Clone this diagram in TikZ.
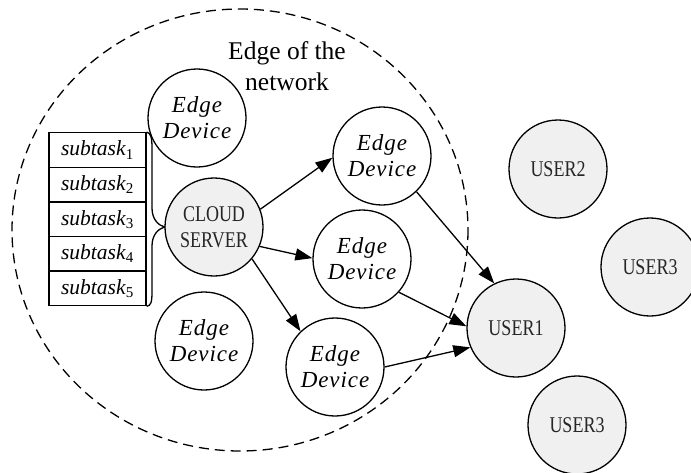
\documentclass[tikz,border=0pt]{standalone}
\usepackage{fontspec}
\setmainfont{Liberation Serif}
\newfontfamily\narrowfont[FakeStretch=0.8]{Liberation Serif}
\usetikzlibrary{arrows.meta}
\definecolor{nodefill}{RGB}{240,240,240}
\begin{document}
\begin{tikzpicture}[x=1pt,y=-1pt,
  dev/.style={circle,draw,line width=1.3pt,fill=white,minimum size=98pt,inner sep=0pt,
    align=center,font=\fontsize{23}{26}\selectfont\itshape\addfontfeatures{LetterSpace=4}},
  usr/.style={circle,draw,line width=1.3pt,fill=nodefill,minimum size=98pt,inner sep=0pt,
    align=center,text=black!85,font=\fontsize{22.5}{26}\selectfont\narrowfont},
  link/.style={line width=1.3pt,-{Triangle[length=17pt,width=12pt]}},
  cell/.style={draw,line width=1.3pt,minimum width=97pt,minimum height=34.6pt,
    inner sep=0pt,font=\fontsize{21.5}{24}\selectfont},
  region/.style={line width=1.3pt,dash pattern=on 10pt off 6pt}
]
\useasboundingbox (0,0) rectangle (691,472);
\clip (0,0) rectangle (691,472);

% boundary of the edge network
\draw[region] (240,230) ellipse [x radius=228, y radius=221];
\node[font=\fontsize{25.5}{31}\selectfont, align=center] (lbl) at (287,66) {Edge of the\\network};

% server and edge devices
\node[usr] (cloud) at (214,227) {CLOUD\\SERVER};
\node[dev] (etl)  at (197,118) {Edge\\Device};
\node[dev] (ert)  at (382,156) {Edge\\Device};
\node[dev] (emid) at (362,259) {Edge\\Device};
\node[dev] (ebl)  at (204,341) {Edge\\Device};
\node[dev] (ebot) at (335,367) {Edge\\Device};

% users
\node[usr] (u1)  at (516,328) {USER1};
\node[usr] (u2)  at (558,169) {USER2};
\node[usr] (u3a) at (650,267) {USER3};
\node[usr] (u3b) at (577,425) {USER3};

% task queue
\node[cell] (c1) at (97.5,150.0) {\textit{subtask}\textsubscript{1}};
\node[cell] (c2) at (97.5,184.6) {\textit{subtask}\textsubscript{2}};
\node[cell] (c3) at (97.5,219.2) {\textit{subtask}\textsubscript{3}};
\node[cell] (c4) at (97.5,253.8) {\textit{subtask}\textsubscript{4}};
\node[cell] (c5) at (97.5,288.4) {\textit{subtask}\textsubscript{5}};

% brace joining the queue to the server
\draw[line width=1.3pt] (c1.north east) .. controls (151,133) and (152,138) .. (152,148)
  -- (152,208) .. controls (152,219) and (158,225) .. (cloud.west)
  .. controls (158,229) and (152,235) .. (152,246)
  -- (152,292) .. controls (152,302) and (151,305.7) .. (c5.south east);

% offloading paths
\draw[link] (cloud.21)  -- (ert.182);
\draw[link] (cloud.-23) -- (emid.179);
\draw[link] (cloud.-40) -- (ebot.134);
\draw[link] (ert.-46)   -- (u1.116);
\draw[link] (emid.-42)  -- (u1.178);
\draw[link] (ebot.0)    -- (u1.203);
\end{tikzpicture}
\end{document}
